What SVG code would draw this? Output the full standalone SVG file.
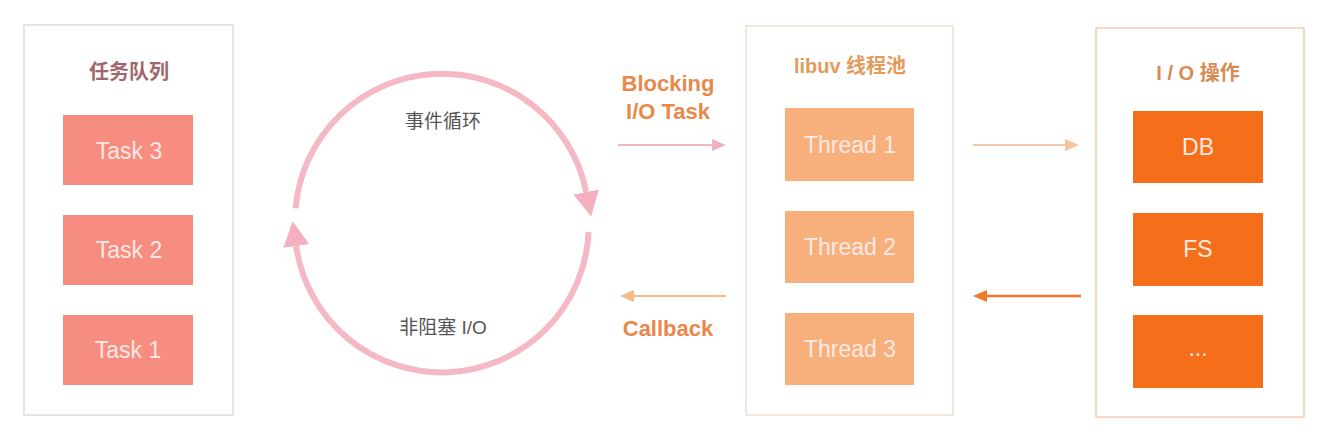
<svg xmlns="http://www.w3.org/2000/svg" width="1324" height="427" viewBox="0 0 1324 427">
<defs>
<style>
text{font-family:"Liberation Sans","Noto Sans CJK SC",sans-serif;text-anchor:middle;dominant-baseline:central}
.panel{fill:#fff;stroke-width:1.5}
.task{fill:#f68d80}
.thread{fill:#f7b07c}
.io{fill:#f56f1a}
.btxt{font-size:23px;fill:#fde9e4}
.ttl{font-size:20px;font-weight:bold}
.lbl{font-size:22px;font-weight:bold;fill:#e8894a}
.cyc{font-size:19px;fill:#555}
.ring{fill:none;stroke:#f5b9c5;stroke-width:6}
</style>
<marker id="ringHead" markerUnits="userSpaceOnUse" markerWidth="26" markerHeight="26" refX="0" refY="13" orient="auto" viewBox="0 0 26 26">
<path d="M0,0 L25,13 L0,26 Z" fill="#f4b0be"/>
</marker>
<marker id="hPink" markerUnits="userSpaceOnUse" markerWidth="14" markerHeight="12" refX="0" refY="6" orient="auto" viewBox="0 0 14 12">
<path d="M0,0 L14,6 L0,12 Z" fill="#f0b3bd"/>
</marker>
<marker id="hPeach" markerUnits="userSpaceOnUse" markerWidth="14" markerHeight="12" refX="0" refY="6" orient="auto" viewBox="0 0 14 12">
<path d="M0,0 L14,6 L0,12 Z" fill="#f5b98a"/>
</marker>
<marker id="hLight" markerUnits="userSpaceOnUse" markerWidth="14" markerHeight="12" refX="0" refY="6" orient="auto" viewBox="0 0 14 12">
<path d="M0,0 L14,6 L0,12 Z" fill="#f5c4a0"/>
</marker>
<marker id="hDark" markerUnits="userSpaceOnUse" markerWidth="14" markerHeight="12" refX="0" refY="6" orient="auto" viewBox="0 0 14 12">
<path d="M0,0 L14,6 L0,12 Z" fill="#f07a2a"/>
</marker>
</defs>
<rect width="1324" height="427" fill="#fff"/>

<g id="task-queue">
<rect class="panel" x="24" y="25" width="209" height="390" stroke="#dedede"/>
<text class="ttl" x="129" y="72" fill="#a0676a">任务队列</text>
<rect class="task" x="63" y="115" width="130" height="70"/>
<text class="btxt" x="129" y="151">Task 3</text>
<rect class="task" x="63" y="215" width="130" height="70"/>
<text class="btxt" x="129" y="250">Task 2</text>
<rect class="task" x="63" y="315" width="130" height="70"/>
<text class="btxt" x="128" y="350">Task 1</text>
</g>

<g id="event-loop">
<path class="ring" d="M295.6,208.2 A147,147 0 0 1 586.2,192" marker-end="url(#ringHead)"/>
<path class="ring" d="M588.6,232 A147,147 0 0 1 296.2,246" marker-end="url(#ringHead)"/>
<text class="cyc" x="443" y="121">事件循环</text>
<text class="cyc" x="443" y="327">非阻塞 I/O</text>
</g>

<g id="libuv-pool">
<rect class="panel" x="746" y="26" width="207" height="389" stroke="#ebe0d0"/>
<text class="ttl" x="850" y="66" fill="#e39a5c">libuv 线程池</text>
<rect class="thread" x="785" y="108" width="129" height="73"/>
<text class="btxt" x="850" y="145" fill="#fde7d8">Thread 1</text>
<rect class="thread" x="785" y="211" width="129" height="72"/>
<text class="btxt" x="850" y="247">Thread 2</text>
<rect class="thread" x="785" y="313" width="129" height="72"/>
<text class="btxt" x="850" y="349">Thread 3</text>
</g>

<g id="io-ops">
<rect class="panel" x="1096" y="28" width="208" height="389" stroke="#f3cdb5"/>
<text class="ttl" x="1198" y="73" fill="#d98a52">I / O 操作</text>
<rect class="io" x="1133" y="111" width="130" height="72"/>
<text class="btxt" x="1198" y="147">DB</text>
<rect class="io" x="1133" y="213" width="130" height="73"/>
<text class="btxt" x="1198" y="249">FS</text>
<rect class="io" x="1133" y="315" width="130" height="73"/>
<text class="btxt" x="1198" y="348">...</text>
</g>

<g id="connectors">
<text class="lbl" x="668" y="83">Blocking</text>
<text class="lbl" x="668" y="111">I/O Task</text>
<line x1="618" y1="145" x2="712" y2="145" stroke="#f0b8c0" stroke-width="2" marker-end="url(#hPink)"/>
<line x1="726" y1="296" x2="634" y2="296" stroke="#f5b98a" stroke-width="2" marker-end="url(#hPeach)"/>
<text class="lbl" x="668" y="328">Callback</text>
<line x1="973" y1="145" x2="1065" y2="145" stroke="#f5c7a5" stroke-width="2" marker-end="url(#hLight)"/>
<line x1="1081" y1="296" x2="987" y2="296" stroke="#f07a2a" stroke-width="2.5" marker-end="url(#hDark)"/>
</g>
</svg>
